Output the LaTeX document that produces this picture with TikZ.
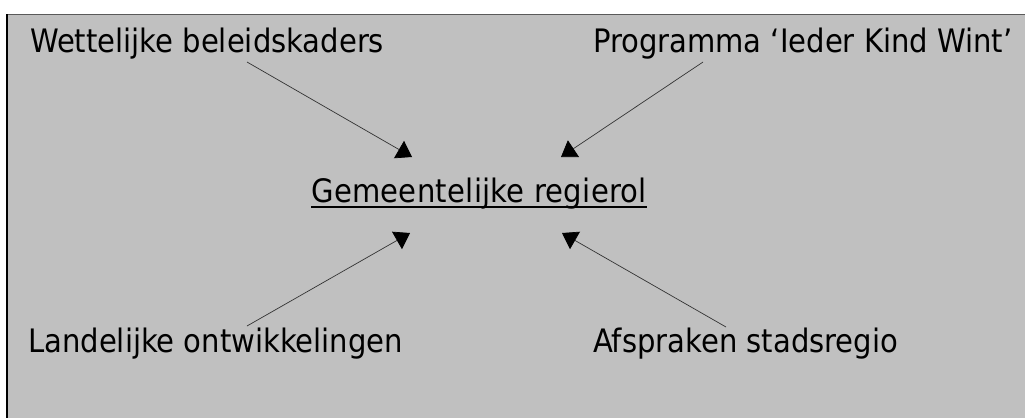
\documentclass[tikz,border=0pt]{standalone}
\usepackage{fontspec}
\setmainfont{DejaVu Sans Condensed}
\usetikzlibrary{arrows.meta}
\definecolor{panel}{RGB}{192,192,192}
\definecolor{topline}{RGB}{90,90,90}
\tikzset{
  lbl/.style={anchor=base west, inner sep=0pt, font=\fontsize{32.3}{38}\selectfont, text=black},
  conn/.style={draw=black!80, line width=0.7pt, -{Triangle[length=15pt,width=20pt,color=black]}},
}
\begin{document}
\begin{tikzpicture}[x=1pt,y=-1pt]
\useasboundingbox (0,0) rectangle (1025,418);
\fill[panel] (7,14) rectangle (1025,418);
\draw[topline, line width=1pt] (7,14.5) -- (1025,14.5);
\draw[black, line width=2pt] (7,14) -- (7,418);

\node[lbl] (wet) at (30,52) {Wettelijke beleidskaders};
\node[lbl] (prog) at (593,52) {Programma ‘Ieder Kind Wint’};
\node[lbl] (gem) at (311,202) {\addfontfeature{LetterSpace=0.9}Gemeentelijke regierol};
\node[lbl] (land) at (28,352) {Landelijke ontwikkelingen};
\node[lbl] (afs) at (593,352) {Afspraken stadsregio};
\draw[black, line width=2pt] ([yshift=-5pt]gem.base west) -- ([yshift=-5pt]gem.base east);

\coordinate (s1) at (247,62);
\coordinate (e1) at (412,157);
\coordinate (s2) at (703,62);
\coordinate (e2) at (561,157);
\coordinate (s3) at (247,326);
\coordinate (e3) at (410,233);
\coordinate (s4) at (726,327);
\coordinate (e4) at (562,233);
\draw[conn] (s1) -- (e1);
\draw[conn] (s2) -- (e2);
\draw[conn] (s3) -- (e3);
\draw[conn] (s4) -- (e4);
\end{tikzpicture}
\end{document}
